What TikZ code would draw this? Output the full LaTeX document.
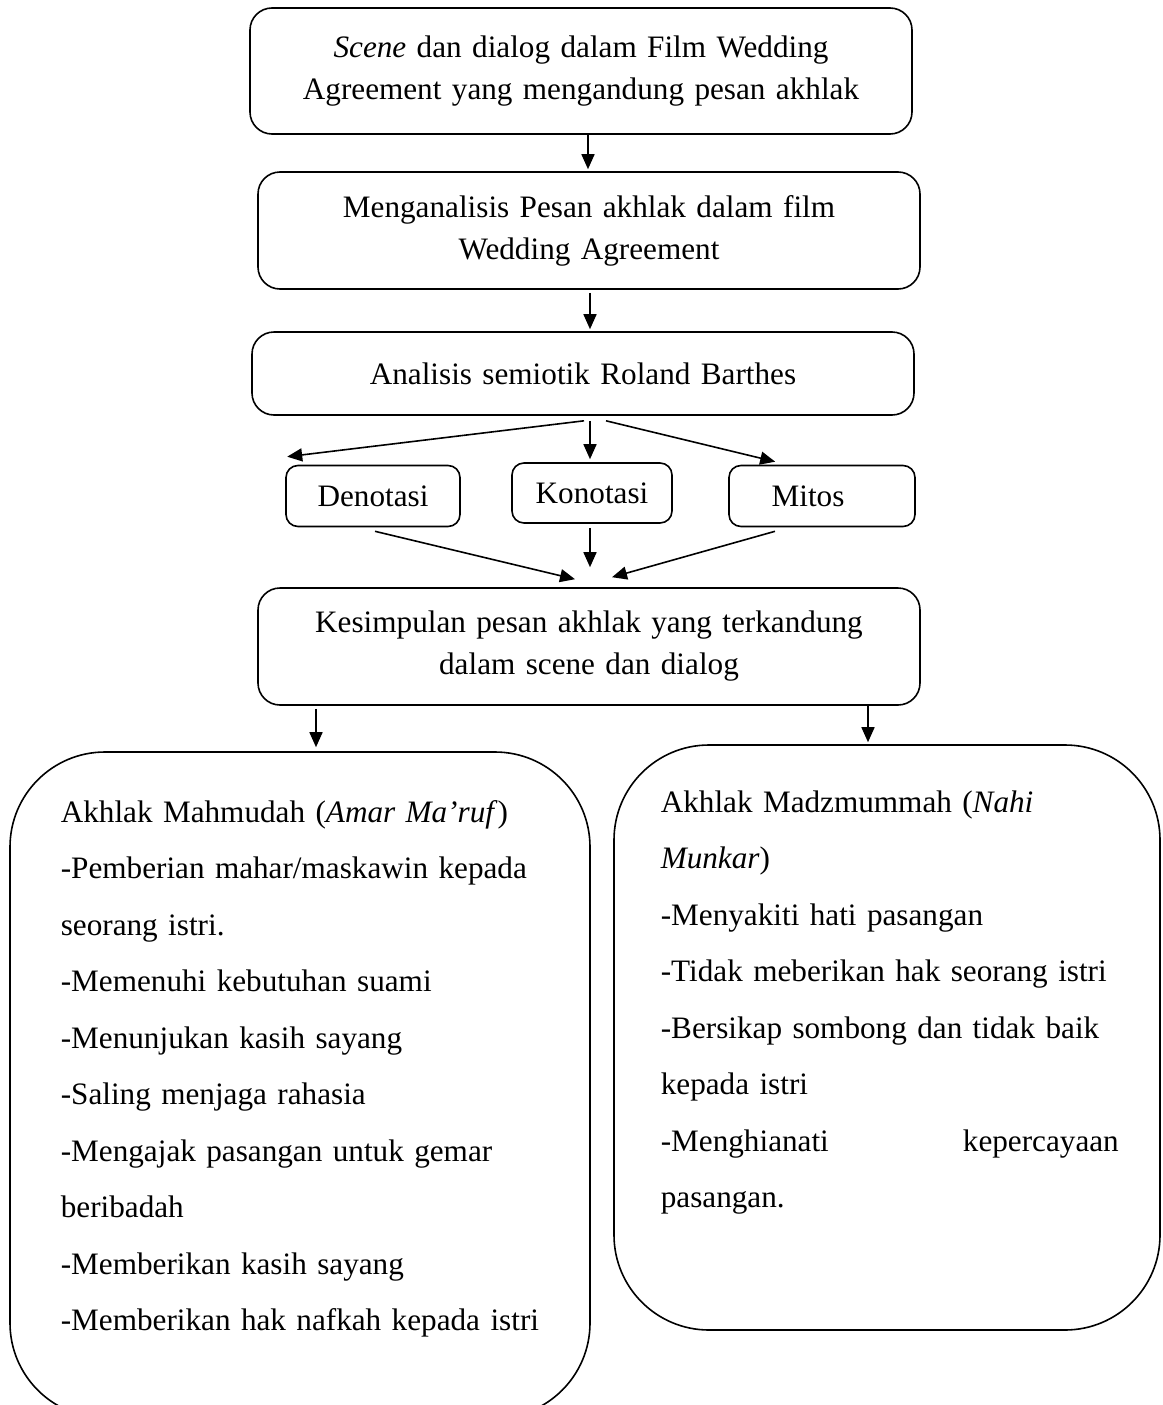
\documentclass[tikz,border=0pt]{standalone}
\usepackage{fontspec}
\setmainfont{Liberation Serif}
\usetikzlibrary{arrows.meta,calc}
\newcommand{\fullline}[2]{\makebox[#1][s]{#2}}

\begin{document}
\begin{tikzpicture}
  [x=1pt,y=-1pt,line width=1.6pt,
   font=\fontsize{31.2}{42}\selectfont,
   box/.style={draw,rounded corners=22pt,inner sep=0pt,text width=640pt,align=center,minimum width=662pt},
   smallbox/.style={draw,rounded corners=12pt,inner sep=0pt,minimum height=61pt},
   bigbox/.style={draw,rounded corners=95pt,inner sep=0pt},
   listtext/.style={inner sep=0pt,align=left,anchor=base west,text width=520pt,
     font=\fontsize{31.2}{56.5}\selectfont},
   arr/.style={-{Triangle[length=15pt,width=13pt]}}]
  \useasboundingbox (0,0) rectangle (1162,1405);

  \node[box,minimum height=126pt] (scene) at (581,71) {\textit{Scene} dan dialog dalam Film Wedding\\ Agreement yang mengandung pesan akhlak};
  \node[box,minimum height=117pt] (mengan) at (589,230.5) {Menganalisis Pesan akhlak dalam film\\ Wedding Agreement};
  \node[box,minimum height=83pt] (analisis) at (583,373.5) {Analisis semiotik Roland Barthes};
  \node[smallbox,minimum width=174pt] (den) at (373,496) {Denotasi};
  \node[smallbox,minimum width=160pt,minimum height=60pt] (kon) at (592,493) {Konotasi};
  \node[smallbox,minimum width=186pt] (mitos) at (822,496) {Mitos\hspace*{28pt}};
  \node[box,minimum height=117pt] (kes) at (589,646.5) {Kesimpulan pesan akhlak yang terkandung\\ dalam scene dan dialog};
  \node[bigbox,minimum width=580pt,minimum height=666pt] (lbox) at (300,1085) {};
  \node[bigbox,minimum width=546pt,minimum height=585pt] (rbox) at (887,1037.5) {};

  \node[listtext] (mahmudah) at (60,822) {Akhlak Mahmudah (\textit{Amar Ma’ruf})\\
    \fullline{485pt}{-Pemberian mahar/maskawin kepada}\\
    seorang istri.\\
    -Memenuhi kebutuhan suami\\
    -Menunjukan kasih sayang\\
    -Saling menjaga rahasia\\
    \fullline{485pt}{-Mengajak pasangan untuk gemar}\\
    beribadah\\
    -Memberikan kasih sayang\\
    -Memberikan hak nafkah kepada istri};
  \node[listtext] (madzmummah) at (660,812) {Akhlak Madzmummah (\textit{Nahi}\\
    \textit{Munkar})\\
    -Menyakiti hati pasangan\\
    -Tidak meberikan hak seorang istri\\
    \fullline{458pt}{-Bersikap sombong dan tidak baik}\\
    kepada istri\\
    \fullline{458pt}{-Menghianati\hfill kepercayaan}\\
    pasangan.};

  \draw[arr] ($(scene.south)+(7pt,0)$) -- ($(scene.south |- mengan.north)+(7pt,2pt)$);
  \draw[arr] ($(mengan.south)+(1pt,-3pt)$) -- ($(mengan.south |- analisis.north)+(1pt,2pt)$);
  \draw[arr] ($(analisis.south)+(1pt,-5pt)$) -- ($(den.north west)+(2pt,8pt)$);
  \draw[arr] ($(analisis.south)+(7pt,-5pt)$) -- ($(analisis.south |- kon.north)+(7pt,3pt)$);
  \draw[arr] ($(analisis.south)+(23pt,-5pt)$) -- ($(mitos.north west)+(47pt,3pt)$);
  \draw[arr] ($(den.south)+(2pt,-4pt)$) -- ($(kes.north)+(-14pt,8pt)$);
  \draw[arr] ($(kon.south)+(-2pt,-4pt)$) -- ($(kon.south |- kes.north)+(-2pt,20pt)$);
  \draw[arr] ($(mitos.south)+(-47pt,-4pt)$) -- ($(kes.north)+(23pt,10pt)$);
  \draw[arr] ($(kes.south -| lbox.north)+(16pt,-3pt)$) -- ($(lbox.north)+(16pt,4pt)$);
  \draw[arr] ($(kes.south -| rbox.north)+(-19pt,0)$) -- ($(rbox.north)+(-19pt,2pt)$);

\end{tikzpicture}
\end{document}
